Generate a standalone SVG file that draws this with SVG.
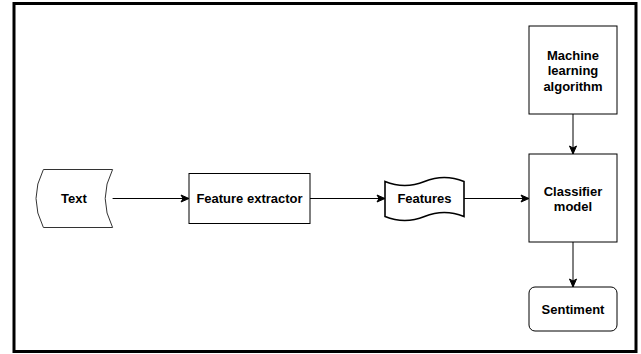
<svg xmlns="http://www.w3.org/2000/svg" width="641" height="354" viewBox="0 0 641 354">
<style>
  .box{fill:#ffffff;stroke:#000000;stroke-width:1}
  .lbl{font-family:"Liberation Sans",Arial,Helvetica,sans-serif;font-weight:bold;font-size:13px;fill:#000000;text-anchor:middle;dominant-baseline:central}
  .edge{fill:none;stroke:#000000;stroke-width:1}
</style>
<defs>
  <marker id="arrow" markerUnits="userSpaceOnUse" markerWidth="10" markerHeight="10" viewBox="0 0 10 10" refX="9" refY="5" orient="auto">
    <path d="M1,1.5 L9,5 L1,8.5 L3,5 Z" fill="#000000" stroke="#000000" stroke-width="1" stroke-linejoin="miter"/>
  </marker>
</defs>
<rect x="0" y="0" width="641" height="354" fill="#ffffff"/>
<rect id="frame" x="14" y="3.5" width="622" height="348" fill="none" stroke="#000000" stroke-width="3"/>

<g id="connectors">
  <line class="edge" x1="112.6" y1="198.5" x2="189" y2="198.5" marker-end="url(#arrow)"/>
  <line class="edge" x1="310" y1="198.5" x2="385" y2="198.5" marker-end="url(#arrow)"/>
  <line class="edge" x1="464" y1="198.5" x2="529" y2="198.5" marker-end="url(#arrow)"/>
  <line class="edge" x1="573" y1="114" x2="573" y2="154" marker-end="url(#arrow)"/>
  <line class="edge" x1="573" y1="242" x2="573" y2="287" marker-end="url(#arrow)"/>
</g>

<g id="node-text">
  <path d="M43.4,169.5 L112.6,169.5 Q97.8,198.5 112.6,227.5 L43.4,227.5 Q28.6,198.5 43.4,169.5 Z" fill="#ffffff" stroke="#333333" stroke-width="1"/>
  <text class="lbl" x="74" y="198.5">Text</text>
</g>

<g id="node-feature-extractor">
  <rect class="box" x="189" y="173.5" width="121" height="50"/>
  <text class="lbl" x="249.5" y="198.5">Feature extractor</text>
</g>

<g id="node-features">
  <path class="box" style="stroke-width:1.6" d="M385,181.5 Q404.75,189.5 424.5,181.5 Q444.25,173.5 464,181.5 L464,216.5 Q444.25,208.5 424.5,216.5 Q404.75,224.5 385,216.5 Z"/>
  <text class="lbl" x="424.5" y="198.5">Features</text>
</g>

<g id="node-ml-algorithm">
  <rect class="box" x="529" y="26" width="88" height="88"/>
  <text class="lbl" x="573" y="55">Machine</text>
  <text class="lbl" x="573" y="70.5">learning</text>
  <text class="lbl" x="573" y="86">algorithm</text>
</g>

<g id="node-classifier">
  <rect class="box" x="529" y="154" width="88" height="88"/>
  <text class="lbl" x="573" y="191">Classifier</text>
  <text class="lbl" x="573" y="206.5">model</text>
</g>

<g id="node-sentiment">
  <rect class="box" x="529" y="287" width="88" height="44" rx="6" ry="6"/>
  <text class="lbl" x="573" y="309">Sentiment</text>
</g>
</svg>
